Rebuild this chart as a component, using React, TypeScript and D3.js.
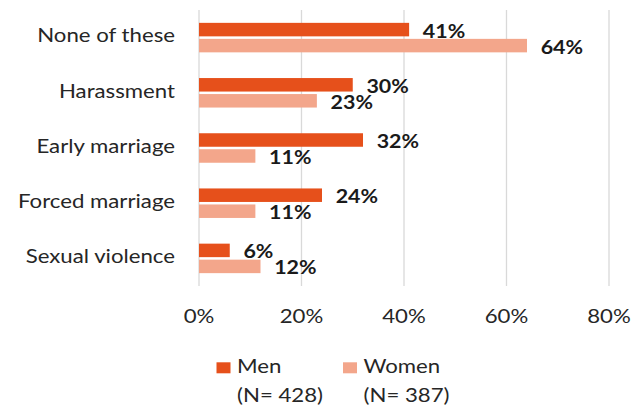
import React from "react";
import * as d3 from "d3";

const categories = ["None of these", "Harassment", "Early marriage", "Forced marriage", "Sexual violence"];
const men = [41, 30, 32, 24, 6];
const women = [64, 23, 11, 11, 12];
const ticks = [0, 20, 40, 60, 80];
const seriesNames = ["Men", "Women"];
const seriesN = ["(N= 428)", "(N= 387)"];
const colors = ["#E6501B", "#F3A68B"];

const W = 643, H = 410;
const FONT = "Lato, 'Open Sans', sans-serif";
const SX = 1.17;

function T(props: {
  x: number;
  y: number;
  anchor?: "start" | "middle" | "end";
  size: number;
  bold?: boolean;
  sx?: number;
  children: React.ReactNode;
}) {
  const { x, y, anchor = "start", size, bold, sx = SX, children } = props;
  return (
    <text
      transform={`translate(${x},${y}) scale(${sx},1)`}
      textAnchor={anchor}
      fontFamily={FONT}
      fontSize={size}
      fontWeight={bold ? "bold" : "normal"}
      fill={bold ? "#1a1a1a" : "#262626"}
    >
      {children}
    </text>
  );
}

export default function App() {
  const x = d3.scaleLinear().domain([0, 80]).range([199, 609]);
  const y = d3.scaleBand().domain(categories).range([10, 286]);
  const barH = 13.5;
  const gap = 2.5;
  const series = [men, women];
  return (
    <svg width={W} height={H} style={{ position: "absolute", left: 0, top: 0, background: "#fff" }}>
      {ticks.map((t) => (
        <line key={t} x1={x(t)} x2={x(t)} y1={10} y2={286} stroke="#d9d9d9" strokeWidth={1.3} />
      ))}
      {categories.map((c, i) => {
        const cy = (y(c) as number) + y.bandwidth() / 2;
        return (
          <g key={c}>
            <T x={175} y={cy + 4.8} anchor="end" size={19}>
              {c}
            </T>
            {series.map((s, k) => {
              const top = k === 0 ? cy - gap / 2 - barH : cy + gap / 2;
              return (
                <g key={k}>
                  <rect x={x(0)} y={top} width={x(s[i]) - x(0)} height={barH} fill={colors[k]} />
                  <T x={x(s[i]) + 13.7} y={top + barH / 2 + 7.9} size={18} bold sx={1.19}>
                    {s[i]}%
                  </T>
                </g>
              );
            })}
          </g>
        );
      })}
      {ticks.map((t) => (
        <T key={t} x={x(t)} y={322.7} anchor="middle" size={19}>
          {t}%
        </T>
      ))}
      {seriesNames.map((n, k) => {
        const lx = k === 0 ? 216.5 : 343;
        return (
          <g key={n}>
            <rect x={lx} y={362.3} width={14} height={11} fill={colors[k]} />
            <T x={lx + 20.5} y={373.3} size={19}>
              {n}
            </T>
            <T x={lx + 20.5} y={401.7} size={19}>
              {seriesN[k]}
            </T>
          </g>
        );
      })}
    </svg>
  );
}
